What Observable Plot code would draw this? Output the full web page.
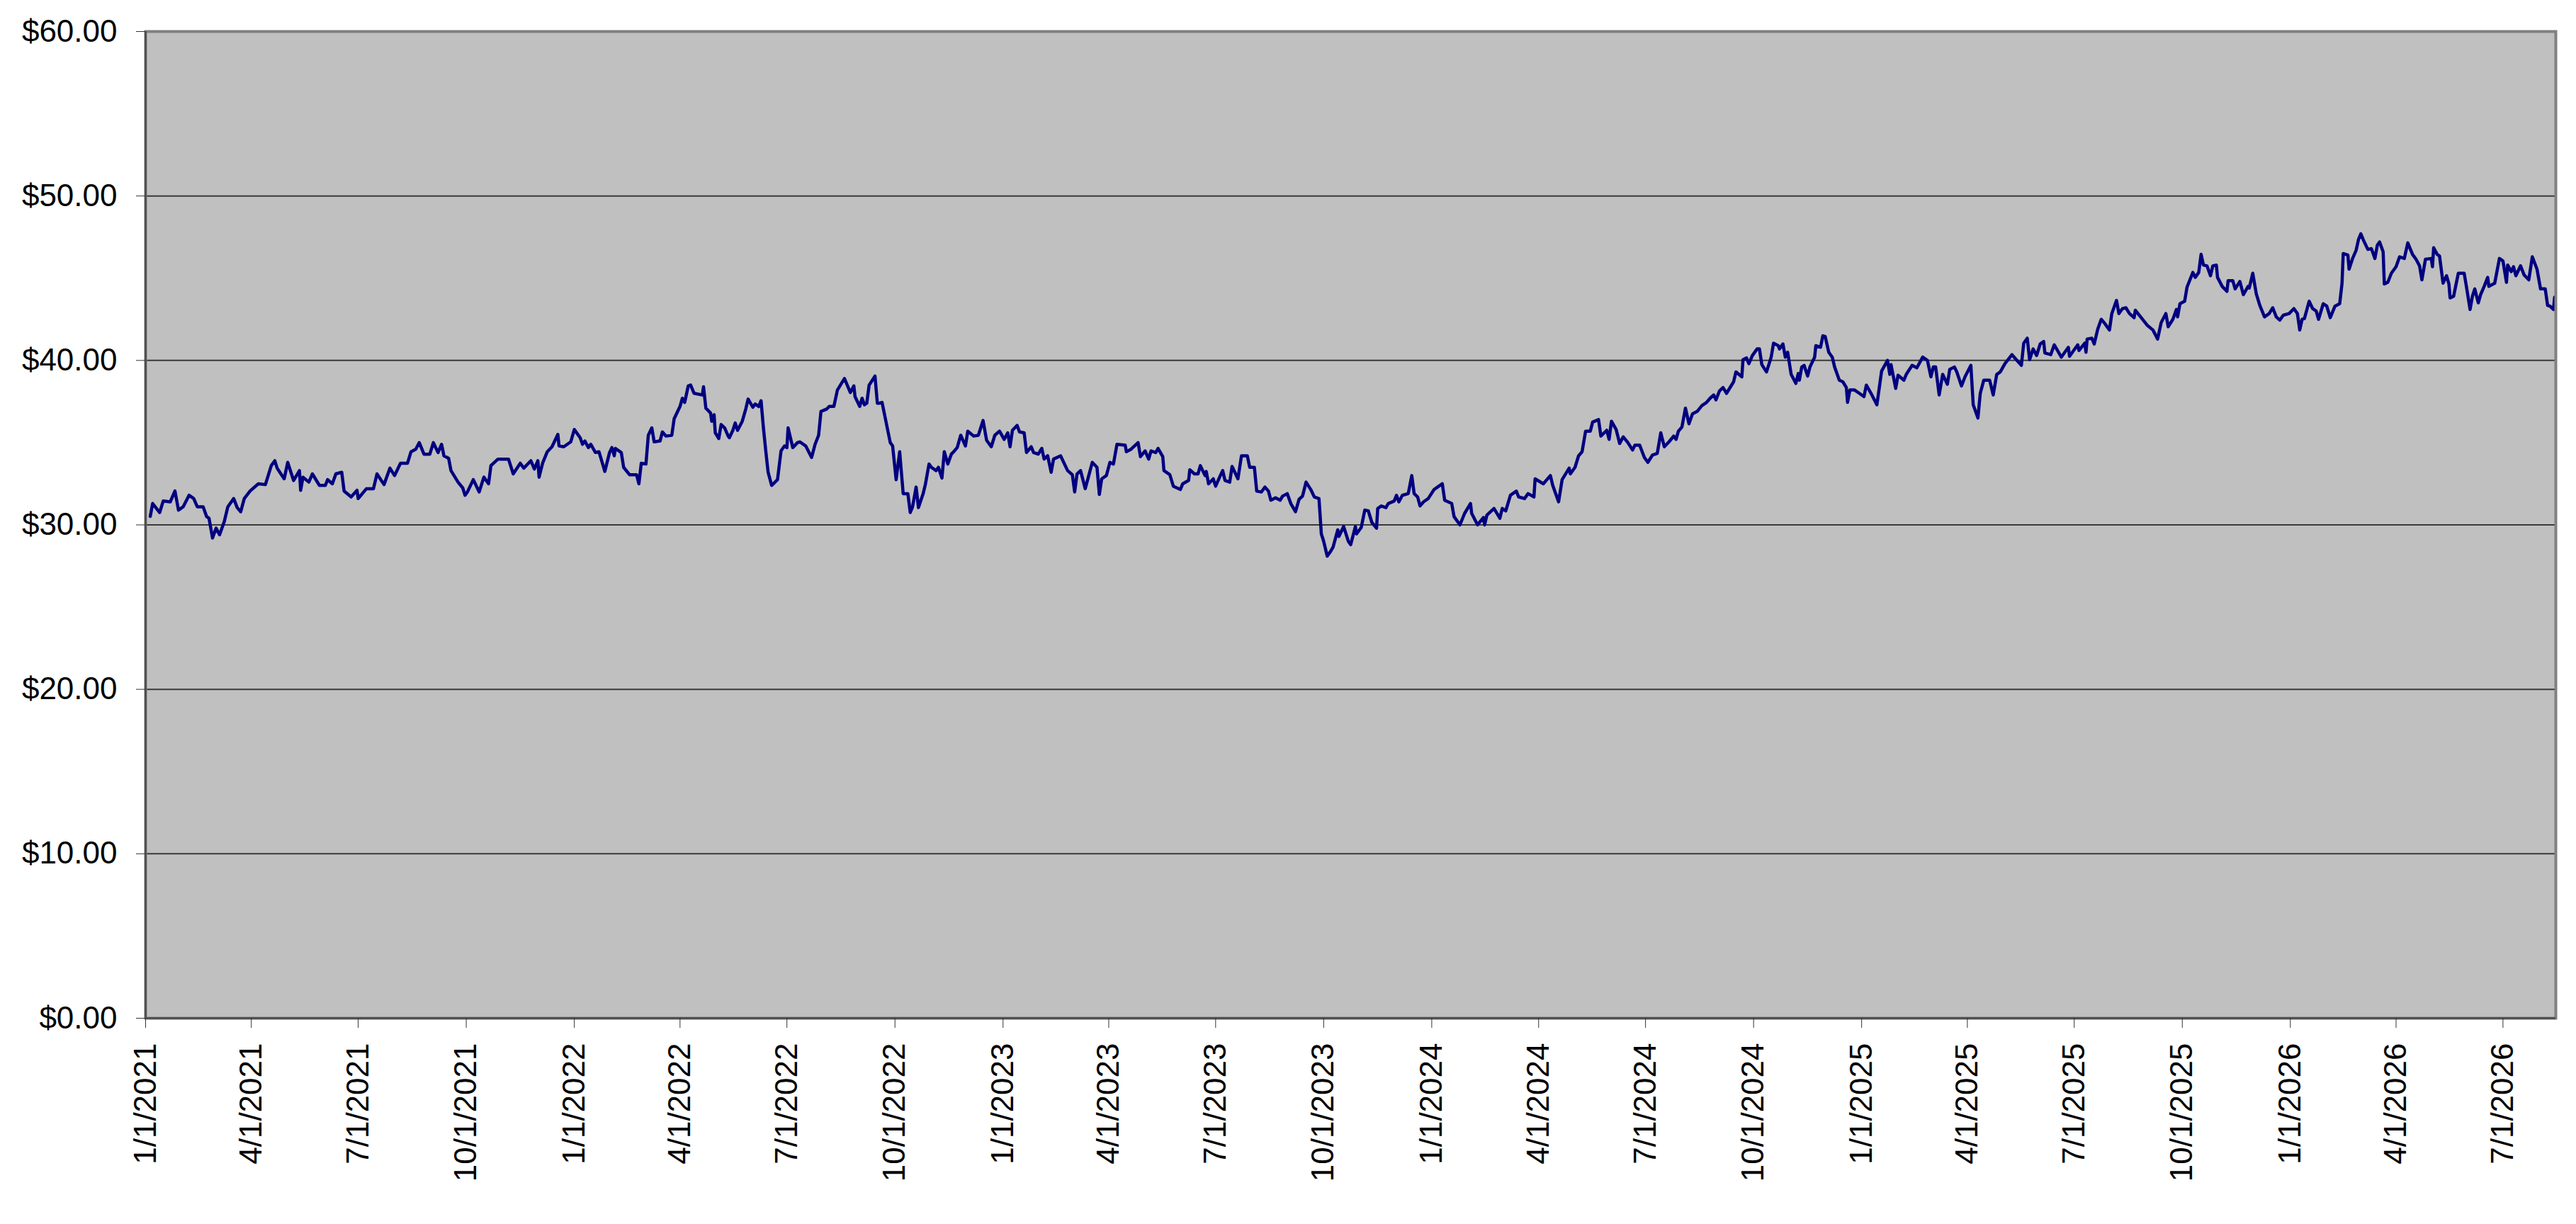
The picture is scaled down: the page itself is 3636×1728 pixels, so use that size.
<!DOCTYPE html>
<html>
<head>
<meta charset="utf-8">
<script src="https://cdn.jsdelivr.net/npm/d3@7"></script>
<script src="https://cdn.jsdelivr.net/npm/@observablehq/plot@0.6"></script>
<style>
  html, body { margin: 0; padding: 0; background: #ffffff; }
  #chart { width: 3636px; height: 1728px; }
</style>
</head>
<body>
<div id="chart"></div>
<script>
// Series start date; dayOffsets are days after it
const startDate = "2021-01-01";
const dayOffsets = [
  4,6,12,15,21,25,28,32,37,41,44,49,52,54,57,60,63,67,70,75,78,81,84,89,96,102,107,110,112,118,121,126,131,132,134,139,142,148,153,155,159,162,167,169,175,180,181,188,194,197,203,208,212,217,223,226,230,233,237,242,245,249,252,254,258,260,266,270,272,274,279,284,288,292,294,300,309,313,319,322,328,331,334,335,338,342,346,348,351,352,356,362,365,
  370,372,374,377,379,383,386,391,395,397,399,400,405,407,412,418,420,422,426,428,431,433,438,440,443,448,450,455,457,459,462,464,467,474,475,477,481,482,484,485,488,490,493,496,497,500,502,504,508,511,513,517,519,522,524,526,528,530,533,538,541,544,546,547,551,555,557,562,567,570,573,575,580,582,586,589,595,600,603,604,608,610,612,614,616,621,623,625,627,630,634,636,639,642,645,649,651,653,656,658,662,664,667,669,673,675,678,680,683,686,688,691,694,698,700,705,709,713,716,720,723,
  727,731,734,736,738,742,744,748,750,754,756,760,763,765,768,771,773,779,785,789,791,793,796,800,803,806,810,812,814,818,821,824,827,834,835,839,845,847,851,854,856,860,862,866,867,872,875,881,883,888,889,893,896,898,902,903,905,909,911,915,917,919,923,925,930,933,938,940,944,946,950,953,956,958,962,966,968,972,975,979,982,985,988,992,995,999,1001,1003,1006,1009,1011,1015,1016,1020,1024,1026,1030,1031,1035,1038,1041,1044,1048,1049,1052,1056,1058,1063,1065,1067,1070,1075,1078,1080,1083,1085,1088,1092,1097,1101,1104,1106,
  1112,1114,1119,1123,1128,1129,1134,1139,1140,1142,1148,1153,1155,1158,1162,1167,1169,1174,1177,1182,1183,1190,1196,1198,1203,1206,1212,1213,1217,1220,1223,1226,1230,1232,1237,1239,1244,1246,1248,1252,1255,1258,1262,1266,1268,1272,1276,1279,1283,1287,1290,1293,1297,1301,1303,1305,1308,1311,1314,1317,1321,1325,1329,1332,1335,1337,1340,1343,1346,1352,1354,1359,1360,1363,1365,1368,1372,1374,1376,1380,1384,1386,1390,1391,1394,1396,1398,1401,1405,1407,1408,1410,1412,1415,1417,1421,1422,1426,1428,1430,1433,1436,1438,1442,1445,1448,1449,1451,1455,1459,1463,1465,1469,1474,
  1478,1483,1485,1486,1490,1492,1497,1499,1504,1508,1513,1517,1520,1522,1524,1527,1530,1534,1536,1540,1542,1546,1549,1554,1556,1560,1562,1565,1570,1573,1576,1579,1583,1589,1592,1597,1599,1602,1604,1607,1610,1613,1616,1617,1622,1625,1631,1637,1638,1645,1646,1651,1652,1653,1657,1659,1662,1665,1668,1672,1674,1678,1680,1683,1686,1689,1693,1694,1699,1704,1709,1713,1716,1720,1722,1726,1729,1730,1732,1736,1738,1743,1745,1748,1750,1752,1755,1758,1760,1763,1764,1768,1772,1773,1777,1779,1783,1786,1790,1791,1794,1797,1800,1804,1808,1811,1814,1817,1820,1825,1829,1832,1834,1836,
  1838,1842,1845,1848,1850,1854,1857,1860,1864,1868,1870,1871,1875,1876,1879,1882,1884,1886,1888,1892,1895,1898,1900,1902,1905,1906,1909,1912,1916,1919,1923,1926,1930,1933,1936,1938,1941,1946,1947,1948,1951,1953,1956,1959,1961,1962,1965,1969,1974,1976,1979,1981,1983,1986,1988,1991,1994,1995,2000,2004,2007,2010,2011,2014,2016,2018,2022,2025,2029,2032,2036,2039,2043,2045,2047,2050,2051
];
const prices = [
  30.52,31.3,30.75,31.45,31.4,32.06,30.9,31.1,31.8,31.6,31.1,31.1,30.5,30.4,29.2,29.8,29.4,30.2,31.1,31.6,31.05,30.8,31.6,32.06,32.5,32.45,33.6,33.9,33.45,32.8,33.8,32.7,33.3,32.1,32.9,32.6,33.1,32.4,32.4,32.75,32.5,33.1,33.2,32.06,31.7,32.1,31.6,32.2,32.2,33.1,32.45,33.45,33.0,33.75,33.75,34.45,34.6,35.0,34.3,34.3,35.0,34.4,34.9,34.2,34.05,33.3,32.6,32.25,31.8,32.0,32.75,32.0,32.9,32.5,33.6,34.0,34.0,33.1,33.75,33.45,33.9,33.4,33.9,32.9,33.75,34.45,34.75,35.05,35.5,34.8,34.75,35.05,35.8,
  35.3,34.9,35.1,34.7,34.9,34.4,34.45,33.25,34.4,34.7,34.2,34.65,34.4,33.5,33.05,33.05,32.5,33.75,33.7,35.45,35.9,35.05,35.1,35.65,35.4,35.45,36.45,37.2,37.7,37.45,38.45,38.5,38.0,37.9,38.4,37.1,36.8,36.3,36.7,35.6,35.25,36.1,35.9,35.4,35.3,35.75,36.2,35.75,36.3,37.05,37.65,37.15,37.35,37.2,37.55,35.9,34.5,33.2,32.4,32.75,34.5,34.8,34.7,35.9,34.7,35.0,35.05,34.8,34.1,34.9,35.45,36.9,37.05,37.2,37.2,38.2,38.9,38.05,38.45,37.8,37.2,37.7,37.3,37.4,38.5,39.05,37.4,37.4,37.45,36.4,35.0,34.8,32.75,34.45,31.9,31.9,30.75,31.1,32.3,31.05,31.9,32.5,33.7,33.5,33.3,33.5,32.85,34.45,33.7,34.3,34.45,34.7,35.45,34.8,35.7,35.4,35.45,36.35,35.15,34.75,35.45,
  35.7,35.2,35.6,34.75,35.75,36.05,35.65,35.6,34.4,34.75,34.4,34.3,34.65,34.0,34.2,33.2,34.0,34.2,33.3,33.05,32.0,33.1,33.3,32.2,33.0,33.8,33.5,31.85,32.8,33.0,33.8,33.7,34.9,34.85,34.45,34.6,35.0,34.15,34.5,34.0,34.5,34.4,34.65,34.15,33.3,33.05,32.35,32.15,32.5,32.7,33.35,33.1,33.1,33.6,33.0,33.25,32.5,32.8,32.35,33.0,33.3,32.7,32.6,33.55,32.8,34.2,34.2,33.5,33.5,32.05,32.0,32.3,32.05,31.5,31.65,31.5,31.75,31.9,31.3,30.8,31.55,31.75,32.6,32.15,31.7,31.6,29.45,29.0,28.1,28.4,28.65,29.7,29.3,29.9,29.0,28.8,29.9,29.45,29.85,30.9,30.85,30.15,29.8,31.0,31.15,31.05,31.3,31.45,31.8,31.4,31.8,31.9,33.0,31.9,31.7,31.15,31.4,31.6,32.15,32.35,32.5,31.5,
  31.3,30.5,30.0,30.7,31.3,30.7,30.0,30.45,30.0,30.6,31.0,30.4,31.0,30.85,31.8,32.05,31.7,31.6,31.9,31.7,32.8,32.5,33.0,32.4,31.4,32.75,33.45,33.1,33.5,34.2,34.45,35.7,35.7,36.25,36.4,35.4,35.75,35.2,36.3,35.8,34.95,35.35,35.0,34.55,34.85,34.85,34.1,33.8,34.25,34.35,35.6,34.75,35.05,35.4,35.2,35.7,35.95,37.1,36.15,36.75,36.9,37.25,37.45,37.7,37.9,37.6,38.15,38.35,38.0,38.7,39.3,39.0,40.05,40.15,39.8,40.3,40.7,40.7,39.75,39.3,40.2,41.05,40.9,40.7,41.0,40.2,40.5,39.15,38.6,39.2,38.8,39.6,39.7,39.05,39.6,40.2,40.9,40.8,41.5,41.45,40.5,40.2,39.6,38.8,38.7,38.35,37.45,38.2,38.2,38.0,37.8,38.5,38.0,37.3,
  39.35,40.0,39.15,39.75,38.3,39.1,38.8,39.15,39.7,39.55,40.2,40.0,39.0,39.6,39.6,37.9,39.15,38.55,39.45,39.6,39.3,38.45,39.0,39.7,37.3,36.5,38.0,38.8,38.8,37.9,39.15,39.3,39.8,40.35,40.1,39.7,41.05,41.35,40.05,40.7,40.3,41.0,41.15,40.45,40.35,40.95,40.2,40.8,40.25,40.95,40.6,41.05,40.5,41.3,41.35,41.0,41.9,42.5,42.25,41.85,42.85,43.65,42.85,43.15,43.2,42.85,42.6,43.05,42.6,42.15,41.85,41.3,42.3,42.85,42.05,42.5,43.1,42.65,43.45,43.6,44.45,45.35,45.05,45.35,46.45,45.8,45.75,45.15,45.75,45.8,45.05,44.5,44.2,44.85,44.85,44.35,44.8,44.0,44.5,44.4,45.3,44.05,43.35,42.65,42.85,43.2,42.65,42.45,42.75,42.85,43.15,42.85,41.85,42.5,
  42.55,43.6,43.15,43.0,42.5,43.45,43.3,42.6,43.3,43.45,44.7,46.5,46.4,45.55,46.2,46.7,47.35,47.7,47.35,46.75,46.8,46.2,47.0,47.2,46.6,44.65,44.75,45.3,45.7,46.3,46.2,47.15,46.45,46.15,45.75,44.9,46.15,46.2,45.7,46.85,46.45,46.35,44.7,45.15,44.65,43.8,43.9,45.3,45.3,44.45,43.1,43.9,44.35,43.5,44.0,44.5,45.05,44.5,44.7,46.2,46.05,44.75,45.8,45.4,45.7,45.15,45.75,45.2,44.9,46.3,45.55,44.35,44.35,43.35,43.3,43.1,43.85
];
const endOffset = 2052;
const yTicks = [0, 10, 20, 30, 40, 50, 60];
const yTickLabels = ["$0.00", "$10.00", "$20.00", "$30.00", "$40.00", "$50.00", "$60.00"];
const xTickLabels = ["1/1/2021","4/1/2021","7/1/2021","10/1/2021","1/1/2022","4/1/2022","7/1/2022","10/1/2022","1/1/2023","4/1/2023","7/1/2023","10/1/2023","1/1/2024","4/1/2024","7/1/2024","10/1/2024","1/1/2025","4/1/2025","7/1/2025","10/1/2025","1/1/2026","4/1/2026","7/1/2026"];

const t0 = d3.utcParse("%Y-%m-%d")(startDate);
const dayToDate = n => d3.utcDay.offset(t0, n);
const data = dayOffsets.map((d, i) => ({date: dayToDate(d), price: prices[i]}));
const parseTick = d3.utcParse("%m/%d/%Y");
const xTicks = xTickLabels.map(s => parseTick(s));
const xDomain = [t0, dayToDate(endOffset)];

const chart = Plot.plot({
  width: 3636,
  height: 1728,
  marginLeft: 205,
  marginRight: 29,
  marginTop: 44,
  marginBottom: 291,
  style: {background: "#ffffff", fontFamily: "'Liberation Sans', Arial, sans-serif", fontSize: "44px", color: "#000000", overflow: "visible"},
  x: {type: "utc", domain: xDomain, label: null},
  y: {domain: [0, 60], label: null},
  marks: [
    Plot.frame({fill: "#c0c0c0", stroke: null}),
    Plot.ruleY(yTicks.slice(1, -1), {stroke: "#3a3a3a", strokeWidth: 2}),
    Plot.line(data, {x: "date", y: "price", stroke: "#000080", strokeWidth: 4.5}),
    Plot.frame({stroke: "#808080", strokeWidth: 4}),
    Plot.ruleX([xDomain[0]], {stroke: "#505050", strokeWidth: 3}),
    Plot.ruleY([0], {stroke: "#505050", strokeWidth: 3}),
    Plot.axisY(yTicks, {
      label: null,
      tickFormat: d => yTickLabels[yTicks.indexOf(d)],
      tickSize: 13, tickPadding: 27, fontSize: 44, stroke: "#333333", fill: "#000000"
    }),
    Plot.axisX(xTicks, {
      label: null,
      tickFormat: d => xTickLabels[xTicks.findIndex(t => +t === +d)],
      tickRotate: -90, tickSize: 14, tickPadding: 21, fontSize: 44, stroke: "#333333", fill: "#000000"
    })
  ]
});
document.getElementById("chart").appendChild(chart);
</script>
</body>
</html>
